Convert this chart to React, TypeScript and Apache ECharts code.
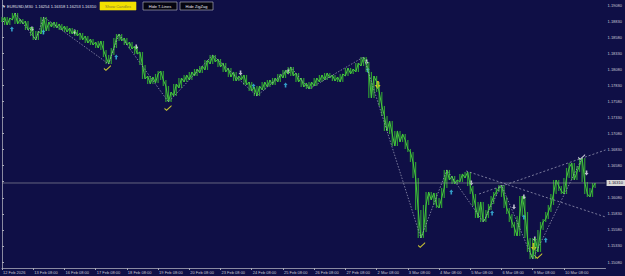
import React, { useEffect, useRef } from "react";
import * as echarts from "echarts";

// EURUSD M30 prices (one point per plotted step)
const prices = [
  1.18816, 1.18893, 1.18769, 1.18878, 1.18847, 1.18956, 1.18785, 1.18862, 1.18785, 1.18831,
  1.18691, 1.18738, 1.18598, 1.18536, 1.18676, 1.18629, 1.18893, 1.18676, 1.18816, 1.18738,
  1.18816, 1.18722, 1.18785, 1.18691, 1.18753, 1.1866, 1.18722, 1.18629, 1.18691, 1.18598,
  1.18645, 1.18536, 1.18598, 1.18489, 1.18551, 1.18458, 1.18504, 1.18411, 1.1852, 1.1838,
  1.18271, 1.18162, 1.18302, 1.18411, 1.18567, 1.18629, 1.1852, 1.18567, 1.18458, 1.18504,
  1.18396, 1.18442, 1.18318, 1.18349, 1.18147, 1.17929, 1.17975, 1.17851, 1.1796, 1.17867,
  1.18007, 1.18053, 1.17913, 1.1782, 1.17571, 1.17726, 1.17664, 1.17851, 1.17789, 1.17944,
  1.17882, 1.17991, 1.17913, 1.18038, 1.17975, 1.18084, 1.18022, 1.18131, 1.18069, 1.18224,
  1.18162, 1.18302, 1.18193, 1.1824, 1.18115, 1.18178, 1.18038, 1.181, 1.1796, 1.18038,
  1.17898, 1.17975, 1.17913, 1.17991, 1.17835, 1.17882, 1.17742, 1.17804, 1.17664, 1.1782,
  1.17758, 1.17882, 1.17804, 1.17913, 1.17835, 1.17944, 1.17882, 1.18007, 1.17944, 1.18069,
  1.18007, 1.18115, 1.17975, 1.18022, 1.17882, 1.17944, 1.17804, 1.17867, 1.17773, 1.17882,
  1.1782, 1.17944, 1.17882, 1.17991, 1.17913, 1.18022, 1.17944, 1.17991, 1.17898, 1.1796,
  1.17882, 1.18007, 1.17975, 1.181, 1.18007, 1.18084, 1.18038, 1.18178, 1.18131, 1.18271,
  1.18193, 1.18038, 1.17633, 1.17975, 1.17882, 1.17726, 1.17509, 1.17353, 1.1712, 1.17275,
  1.17073, 1.16886, 1.1712, 1.16948, 1.17073, 1.1698, 1.1684, 1.16793, 1.16637, 1.16388,
  1.1589, 1.15455, 1.15548, 1.15968, 1.1617, 1.16046, 1.16155, 1.15968, 1.15922, 1.16077,
  1.16233, 1.16513, 1.16357, 1.16419, 1.16295, 1.16357, 1.16326, 1.16451, 1.16388, 1.16482,
  1.16264, 1.16139, 1.15953, 1.15766, 1.16015, 1.15704, 1.15766, 1.1589, 1.15984, 1.16108,
  1.1617, 1.16233, 1.16279, 1.16093, 1.15922, 1.15828, 1.15704, 1.1561, 1.15486, 1.15797,
  1.16108, 1.15859, 1.15455, 1.15237, 1.15128, 1.15455, 1.15237, 1.15579, 1.15704, 1.1575,
  1.15859, 1.15968, 1.16139, 1.16357, 1.16264, 1.16186, 1.16139, 1.16388, 1.16544, 1.16622,
  1.16357, 1.16482, 1.16575, 1.167, 1.16326, 1.16139, 1.16093, 1.16233, 1.1631,
];

const xTickIndex = [0, 12, 24, 36, 48, 60, 72, 84, 96, 108, 120, 132, 144, 156, 168, 180, 192, 204, 216];
const xTickLabels = [
  "12 Feb 2026", "13 Feb 08:00", "16 Feb 08:00", "17 Feb 08:00", "18 Feb 08:00",
  "19 Feb 08:00", "20 Feb 08:00", "23 Feb 08:00", "24 Feb 08:00", "25 Feb 08:00",
  "26 Feb 08:00", "27 Feb 08:00", "2 Mar 08:00", "3 Mar 08:00", "4 Mar 08:00",
  "5 Mar 08:00", "6 Mar 08:00", "9 Mar 08:00", "10 Mar 08:00",
];
const yTickValues = [
  1.1908, 1.1883, 1.1858, 1.1833, 1.1808, 1.1783, 1.1758, 1.1733, 1.1708,
  1.1683, 1.1658, 1.1633, 1.1608, 1.1583, 1.1558, 1.1533, 1.1508,
];
const yMin = 1.14987;
const yMax = 1.19158;
const xMax = 232;

const headerText = "▼ EURUSD,M30  1.16254 1.16318 1.16253 1.16310";
const bidPrice = 1.1631;
const zigzagIdx = [5, 13, 16, 41, 45, 64, 81, 98, 111, 118, 139, 161, 171, 185, 192, 204, 223];
const trendLineA = [[178.4, 1.16497], [232, 1.15781]];
const trendLineB = [[183.4, 1.16139], [232, 1.16824]];

const cyanUp = [
  [3.8, 1.18707], [15.9, 1.1866], [43.9, 1.18271], [96.7, 1.1782], [109, 1.17835],
  [140.6, 1.18069], [172.7, 1.1617], [188.4, 1.15843], [200.6, 1.15781], [209, 1.15423],
];
const whiteDown = [
  [11.5, 1.18707], [27.9, 1.1866], [51.6, 1.18427], [91.7, 1.18022], [110, 1.18038],
  [140.2, 1.18193], [180.4, 1.1631], [196.8, 1.15937], [200.6, 1.16093], [204.8, 1.15439],
  [224.7, 1.16466],
];
const yellowCheck = [[40.5, 1.181], [63.8, 1.17477], [161.3, 1.15345], [206.3, 1.15174]];
const whiteCheck = [[222.8, 1.16715]];
const yellowDown = [[144.4, 1.17835], [204.4, 1.15314]];

const UP = "path://M5,0 L10,5 L7,5 L7,10 L3,10 L3,5 L0,5 Z";
const DOWN = "path://M3,0 L7,0 L7,5 L10,5 L5,10 L0,5 L3,5 Z";
const CHECK = "path://M0,5 L3,8 L10,0 L10,2.5 L3,10.5 L0,7.5 Z";

export default function App() {
  const ref = useRef<HTMLDivElement>(null);
  useEffect(() => {
    if (!ref.current) return;
    const chart = echarts.init(ref.current, null, { renderer: "svg" });
    const font = "Liberation Sans";
    const lineData = prices.map((p, i) => [i, p]);
    const barData = prices.map((p, i) => {
      const a = prices[Math.max(0, i - 1)];
      const b = prices[Math.min(prices.length - 1, i + 1)];
      return [i, Math.min(a, p, b), Math.max(a, p, b)];
    });
    const zigzagData = zigzagIdx.map((i) => [i, prices[i]]);
    const btn = (x: number, w: number, label: string, bg: string, fg: string, stroke: string) => ({
      type: "group",
      children: [
        { type: "rect", shape: { x, y: 2, width: w, height: 8 }, style: { fill: bg, stroke, lineWidth: 0.6 } },
        {
          type: "text",
          x: x + w / 2,
          y: 6.2,
          style: { text: label, fill: fg, font: `4px ${font}`, textAlign: "center", textVerticalAlign: "middle" },
        },
      ],
    });
    chart.setOption({
      animation: false,
      backgroundColor: "#0f0f46",
      grid: { left: 0, right: 18, top: 0, bottom: 8 },
      xAxis: {
        type: "value",
        min: 0,
        max: xMax,
        splitLine: { show: false },
        axisLine: { lineStyle: { color: "#a8a8b8", width: 0.8 } },
        axisTick: { customValues: xTickIndex, length: 2, lineStyle: { color: "#a8a8b8" } },
        axisLabel: {
          customValues: xTickIndex,
          formatter: (v: number) => xTickLabels[Math.round(v / 12)] ?? "",
          color: "#c8c8d4",
          fontSize: 4,
          fontFamily: font,
          align: "left",
          margin: 2,
          padding: [0, 0, 0, 1],
          hideOverlap: false,
        },
      },
      yAxis: {
        type: "value",
        position: "right",
        min: yMin,
        max: yMax,
        splitLine: { show: false },
        axisLine: { show: true, lineStyle: { color: "#a8a8b8", width: 0.8 } },
        axisTick: { show: true, customValues: yTickValues, length: 2, lineStyle: { color: "#a8a8b8" } },
        axisLabel: {
          customValues: yTickValues,
          formatter: (v: number) => v.toFixed(5),
          color: "#c8c8d4",
          fontSize: 4,
          fontFamily: font,
          margin: 2,
        },
      },
      series: [
        {
          type: "line",
          data: [[0, bidPrice], [xMax, bidPrice]],
          symbol: "none",
          silent: true,
          lineStyle: { color: "#a0a0a8", width: 0.6 },
          endLabel: {
            show: true,
            formatter: bidPrice.toFixed(5),
            backgroundColor: "#d8d8d8",
            color: "#101030",
            fontSize: 4,
            fontFamily: font,
            padding: [1, 2],
            distance: 1,
          },
        },
        {
          type: "custom",
          data: barData,
          renderItem: (_p: any, api: any) => {
            const a = api.coord([api.value(0), api.value(1)]);
            const b = api.coord([api.value(0), api.value(2)]);
            return {
              type: "line",
              shape: { x1: a[0], y1: a[1], x2: b[0], y2: b[1] },
              style: { stroke: "#2f9a34", lineWidth: 1.2 },
            };
          },
        },
        {
          type: "line",
          data: lineData,
          symbol: "none",
          lineStyle: { color: "#46c83e", width: 1 },
        },
        {
          type: "line",
          data: zigzagData,
          symbol: "none",
          lineStyle: { color: "#a8a8c0", width: 0.7, type: [1.5, 1.5] },
        },
        {
          type: "line",
          data: trendLineA,
          symbol: "none",
          lineStyle: { color: "#a8a8c0", width: 0.7, type: [2, 2] },
        },
        {
          type: "line",
          data: trendLineB,
          symbol: "none",
          lineStyle: { color: "#a8a8c0", width: 0.7, type: [2, 2] },
        },
        { type: "scatter", data: cyanUp, symbol: UP, symbolSize: [4, 5], itemStyle: { color: "#3cc0e8" } },
        { type: "scatter", data: whiteDown, symbol: DOWN, symbolSize: [4, 5], itemStyle: { color: "#e8e8f0" } },
        { type: "scatter", data: yellowCheck, symbol: CHECK, symbolSize: [7, 6], itemStyle: { color: "#f0e830" } },
        { type: "scatter", data: whiteCheck, symbol: CHECK, symbolSize: [7, 6], itemStyle: { color: "#f0f0f8" } },
        { type: "scatter", data: yellowDown, symbol: DOWN, symbolSize: [6, 8], itemStyle: { color: "#f8d820" } },
      ],
      graphic: [
        {
          type: "text",
          x: 2,
          y: 6,
          style: { text: headerText, fill: "#e0e0ea", font: `4px ${font}`, textVerticalAlign: "middle" },
        },
        btn(100, 36, "Show Candles", "#f2e000", "#8c7c30", "#f2e000"),
        btn(143, 34, "Hide T-Lines", "#050510", "#e8e8f0", "#c0c0c8"),
        btn(180, 33, "Hide ZigZag", "#050510", "#e8e8f0", "#c0c0c8"),
      ],
    });
    return () => chart.dispose();
  }, []);
  return <div ref={ref} style={{ position: "fixed", left: 0, top: 0, width: 625, height: 276 }} />;
}
